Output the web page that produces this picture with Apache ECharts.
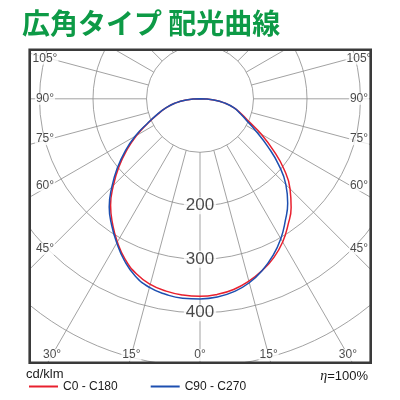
<!DOCTYPE html>
<html><head><meta charset="utf-8">
<script src="https://cdn.jsdelivr.net/npm/echarts@6/dist/echarts.min.js"></script>
<style>html,body{margin:0;padding:0;background:#fff}#c{width:400px;height:400px}</style>
</head><body><div id="c"></div>
<script>
// ---- texts ----
const titleText = '広角タイプ 配光曲線';
const unitText = 'cd/klm';
const seriesNames = ['C0 - C180', 'C90 - C270'];
const angleTicks = [0, 15, 30, 45, 60, 75, 90, 105];
const radiusTicks = [200, 300, 400];

// ---- data: angle from nadir (deg) and intensity (cd/klm) ----
const angles        = [0,   5,   10,  15,  20,  25,  30,  35,  40,  45,  50,  55,  60,  65,  70, 75, 80, 85, 90];
const c0Values      = [369, 368, 365, 359, 348, 331, 309, 285, 260, 229, 198, 167, 137, 107, 84, 66, 48, 26, 0]; // red, left
const c180Values    = [369, 367, 362, 353, 341, 327, 309, 287, 265, 238, 205, 167, 132, 101, 82, 66, 48, 26, 0]; // red, right
const c90Values     = [374, 374, 371, 365, 353, 334, 311, 288, 264, 233, 202, 171, 140, 108, 85, 66, 48, 26, 0]; // blue, left
const c270Values    = [374, 372, 366, 356, 341, 323, 302, 278, 255, 227, 192, 154, 121, 96,  80, 66, 48, 26, 0]; // blue, right

// ---- layout / style ----
const CX = 200, CY = 98.8;
const PX_PER_UNIT = 0.535;
const R_MIN_GRID = 100, R_MAX = 600;
const FX0 = 29.7, FY0 = 49.7, FX1 = 370.7, FY1 = 362.8;
const SIDE_RAY_DX = 150;                 // ray crossing used for side labels (px from centre)
const SIDE_LABEL_DX = { left: 155, right: 159 };
const BOTTOM_LABEL_Y = 355;
const GRID_COLOR = '#8a8a8a';
const TEXT_COLOR = '#1a1a1a';
const RED = '#e8202e', BLUE = '#1d4fb0';

function buildCurve(leftV, rightV) {
  const pts = [];
  for (let i = angles.length - 1; i >= 1; i--) pts.push([rightV[i], 360 - angles[i]]);
  for (let i = 0; i < angles.length; i++) pts.push([leftV[i], angles[i]]);
  return pts;
}

// angle labels: bottom ones sit on their ray, side ones take the ray's height and sit by the frame
function angleLabelData() {
  const out = [];
  angleTicks.forEach(a => {
    const sides = a === 0 ? [0] : [-1, 1];
    sides.forEach(s => {
      const rad = a * Math.PI / 180;
      const sinA = Math.sin(rad), cosA = Math.cos(rad);
      const tBottom = cosA > 1e-6 ? (BOTTOM_LABEL_Y - CY) / cosA : Infinity;
      const tSide = sinA > 1e-6 ? SIDE_RAY_DX / sinA : Infinity;
      const ang = s > 0 ? 360 - a : a;
      let t, offset = [0, 0];
      if (tBottom <= tSide) {
        t = tBottom;
      } else {
        t = tSide;
        const target = s < 0 ? SIDE_LABEL_DX.left : SIDE_LABEL_DX.right;
        offset = [s * (target - SIDE_RAY_DX), 0];
      }
      out.push({ name: a + '°', value: [t / PX_PER_UNIT, ang], label: { offset } });
    });
  });
  return out;
}

const chart = echarts.init(document.getElementById('c'), null, { renderer: 'canvas' });
const R_OUT = R_MAX * PX_PER_UNIT;
const R_IN = R_MIN_GRID * PX_PER_UNIT;

const hiddenSymbol = { symbol: 'circle', symbolSize: 1, itemStyle: { color: 'rgba(0,0,0,0)' } };

chart.setOption({
  animation: false,
  backgroundColor: '#fff',
  title: [
    { text: titleText, left: 22, top: 9, padding: 0,
      textStyle: { fontFamily: 'Noto Sans CJK JP', fontWeight: 'bold', fontSize: 28, color: '#0d9a46' } },
    { text: unitText, left: 26, top: 368, padding: 0,
      textStyle: { fontFamily: 'Liberation Sans', fontWeight: 'normal', fontSize: 13, color: TEXT_COLOR } },
    { text: '{i|η}=100%', right: 32, top: 369, padding: 0,
      textStyle: { fontFamily: 'Liberation Sans', fontWeight: 'normal', fontSize: 13, color: TEXT_COLOR,
        rich: { i: { fontStyle: 'italic', fontSize: 14, fontFamily: 'Liberation Serif', color: TEXT_COLOR } } } }
  ],
  legend: {
    data: seriesNames.map(n => ({ name: n, icon: 'rect' })),
    left: 29, top: 380.5, itemWidth: 29, itemHeight: 2, itemGap: 33, padding: 0,
    selectedMode: false,
    textStyle: { fontFamily: 'Liberation Sans', fontSize: 12, color: TEXT_COLOR }
  },
  polar: [
    { center: [CX, CY], radius: [R_IN, R_OUT] },
    { center: [CX, CY], radius: [0, R_OUT] }
  ],
  angleAxis: [
    { polarIndex: 0, type: 'value', min: 0, max: 360, interval: 15, startAngle: 270, clockwise: true,
      axisLine: { show: false }, axisTick: { show: false }, axisLabel: { show: false },
      splitLine: { show: true, lineStyle: { color: GRID_COLOR, width: 0.8 } }, z: 0 },
    { polarIndex: 1, type: 'value', min: 0, max: 360, startAngle: 270, clockwise: true, show: false }
  ],
  radiusAxis: [
    { polarIndex: 0, type: 'value', min: R_MIN_GRID, max: R_MAX, interval: 100,
      axisLine: { show: false }, axisTick: { show: false }, axisLabel: { show: false },
      splitLine: { show: true, lineStyle: { color: GRID_COLOR, width: 0.8 } }, z: 0 },
    { polarIndex: 1, type: 'value', min: 0, max: R_MAX, show: false }
  ],
  graphic: [
    { type: 'rect', silent: true, z: 1, shape: { x: 0, y: 0, width: 400, height: FY0 }, style: { fill: '#fff' } },
    { type: 'rect', silent: true, z: 1, shape: { x: 0, y: FY1, width: 400, height: 400 - FY1 }, style: { fill: '#fff' } },
    { type: 'rect', silent: true, z: 1, shape: { x: 0, y: 0, width: FX0, height: 400 }, style: { fill: '#fff' } },
    { type: 'rect', silent: true, z: 1, shape: { x: FX1, y: 0, width: 400 - FX1, height: 400 }, style: { fill: '#fff' } },
    { type: 'rect', silent: true, z: 7, shape: { x: FX0, y: FY0, width: FX1 - FX0, height: FY1 - FY0 },
      style: { fill: 'none', stroke: '#3a3a3a', lineWidth: 2.6 } }
  ],
  series: [
    { name: seriesNames[0], type: 'line', coordinateSystem: 'polar', polarIndex: 1,
      data: buildCurve(c0Values, c180Values),
      showSymbol: false, symbol: 'none', smooth: 0.5, z: 3,
      lineStyle: { color: RED, width: 1.5 }, itemStyle: { color: RED } },
    { name: seriesNames[1], type: 'line', coordinateSystem: 'polar', polarIndex: 1,
      data: buildCurve(c90Values, c270Values),
      showSymbol: false, symbol: 'none', smooth: 0.5, z: 3,
      lineStyle: { color: BLUE, width: 1.5 }, itemStyle: { color: BLUE } },
    Object.assign({ name: 'radiusLabels', type: 'scatter', coordinateSystem: 'polar', polarIndex: 1,
      data: radiusTicks.map(v => [v, 0]), z: 4, silent: true,
      label: { show: true, position: 'inside', formatter: p => String(p.value[0]),
        fontFamily: 'Liberation Sans', fontSize: 17, color: TEXT_COLOR, textBorderWidth: 0,
        backgroundColor: '#fff', padding: [0, 2] } }, hiddenSymbol),
    Object.assign({ name: 'angleLabels', type: 'scatter', coordinateSystem: 'polar', polarIndex: 1,
      data: angleLabelData(), z: 4, silent: true,
      label: { show: true, position: 'inside', formatter: p => p.name,
        fontFamily: 'Liberation Sans', fontSize: 12, color: TEXT_COLOR, textBorderWidth: 0,
        backgroundColor: '#fff', padding: [0, 1] } }, hiddenSymbol)
  ]
});
</script></body></html>
